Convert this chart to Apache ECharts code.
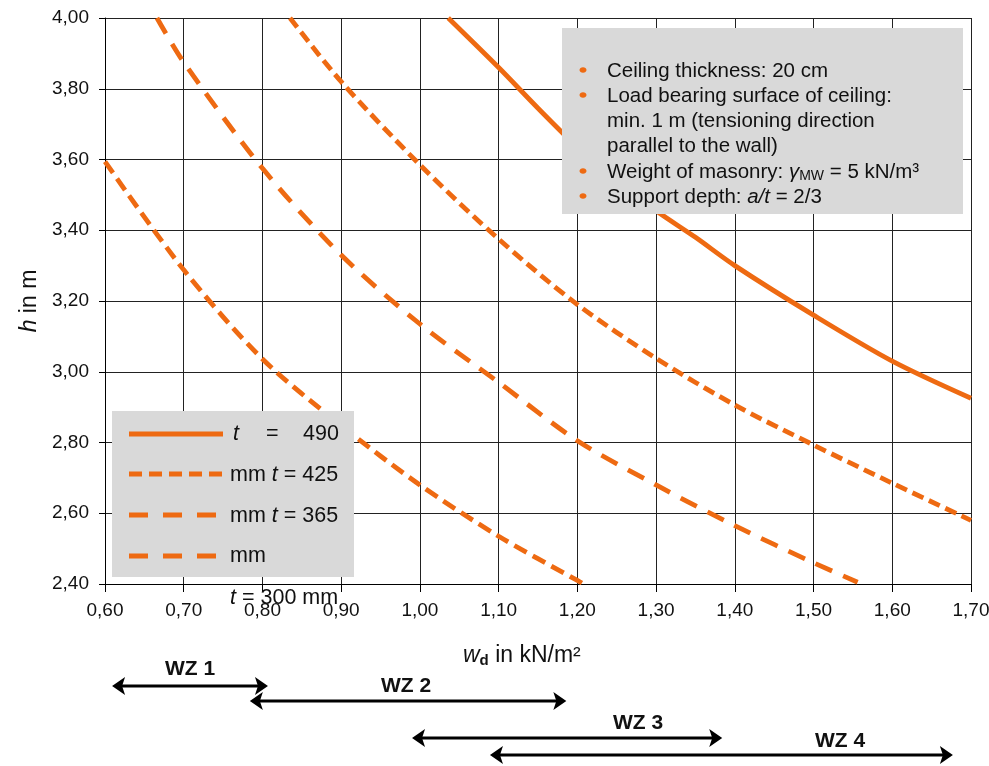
<!DOCTYPE html>
<html>
<head>
<meta charset="utf-8">
<script src="https://cdn.jsdelivr.net/npm/echarts@6/dist/echarts.min.js"></script>
<style>html,body{margin:0;padding:0;background:#fff;}#c{width:989px;height:766px;}</style>
</head>
<body>
<div id="c"></div>
<script>
// ---- data ----
const xTicks = { min: 0.6, max: 1.7, interval: 0.1 };
const yTicks = { min: 2.4, max: 4.0, interval: 0.2 };

const w490 = [1.036, 1.10, 1.15, 1.20, 1.25, 1.30, 1.35, 1.40, 1.50, 1.60, 1.70];
const h490 = [4.00, 3.86, 3.745, 3.635, 3.54, 3.455, 3.38, 3.30, 3.16, 3.03, 2.925];

const w425 = [0.835, 0.90, 1.00, 1.10, 1.20, 1.30, 1.40, 1.50, 1.60, 1.70];
const h425 = [4.00, 3.82, 3.585, 3.375, 3.19, 3.038, 2.906, 2.793, 2.685, 2.58];

const w365 = [0.666, 0.70, 0.80, 0.90, 1.00, 1.10, 1.20, 1.30, 1.40, 1.50, 1.556];
const h365 = [4.00, 3.875, 3.575, 3.33, 3.135, 2.97, 2.805, 2.68, 2.565, 2.46, 2.405];

const w300 = [0.60, 0.70, 0.80, 0.90, 1.00, 1.10, 1.20, 1.208];
const h300 = [3.594, 3.288, 3.036, 2.848, 2.68, 2.535, 2.41, 2.40];

const zoneNames = ['WZ 1', 'WZ 2', 'WZ 3', 'WZ 4'];
const zoneStart = [0.609, 0.784, 0.990, 1.089];
const zoneEnd   = [0.807, 1.186, 1.384, 1.677];

const infoLines = [
  'Ceiling thickness: 20 cm',
  'Load bearing surface of ceiling:',
  'min. 1 m (tensioning direction',
  'parallel to the wall)',
  'Weight of masonry: {i|γ}{s|MW} = 5 kN/m³',
  'Support depth: {i|a/t} = 2/3'
];
const infoBullets = [true, true, false, false, true, true];

// ---- style ----
const ORANGE = '#EE6A12';
const FONT = '"Liberation Sans", Arial, sans-serif';
const dash425 = [12, 6];
const dash365 = [18, 12];
const dash300 = [14, 7];

function pairs(xs, ys) { return xs.map((x, i) => [x, ys[i]]); }
function fmt(v) { return v.toFixed(2).replace('.', ','); }

const chart = echarts.init(document.getElementById('c'), null, { renderer: 'canvas' });

function lineSeries(name, xs, ys, type) {
  return {
    name: name, type: 'line', data: pairs(xs, ys), showSymbol: false, smooth: 0.3,
    clip: true,
    lineStyle: { color: ORANGE, width: 4.8, type: type, cap: 'butt' },
    z: 5
  };
}

const option = {
  animation: false,
  backgroundColor: '#fff',
  grid: { left: 105, top: 18, width: 866, height: 566, containLabel: false, outerBoundsMode: 'none' },
  xAxis: {
    type: 'value', min: xTicks.min, max: xTicks.max, interval: xTicks.interval,
    axisLine: { lineStyle: { color: '#000', width: 1 } },
    axisTick: { show: true, length: 8, lineStyle: { color: '#000' } },
    axisLabel: { formatter: fmt, color: '#111', fontFamily: FONT, fontSize: 19, margin: 17 },
    splitLine: { show: true, lineStyle: { color: '#222', width: 1 } }
  },
  yAxis: {
    type: 'value', min: yTicks.min, max: yTicks.max, interval: yTicks.interval,
    axisLine: { show: true, lineStyle: { color: '#000', width: 1 } },
    axisTick: { show: true, length: 6, lineStyle: { color: '#000' } },
    axisLabel: { formatter: fmt, color: '#111', fontFamily: FONT, fontSize: 19, margin: 16 },
    splitLine: { show: true, lineStyle: { color: '#222', width: 1 } },
    name: '{i|h} in m', nameLocation: 'middle', nameGap: 55, nameRotate: 90,
    nameTextStyle: { fontFamily: FONT, fontSize: 23, color: '#111',
      rich: { i: { fontStyle: 'italic', fontFamily: FONT, fontSize: 23, color: '#111' } } }
  },
  series: [
    lineSeries('t = 490 mm', w490, h490, 'solid'),
    lineSeries('t = 425 mm', w425, h425, dash425),
    lineSeries('t = 365 mm', w365, h365, dash365),
    lineSeries('t = 300 mm', w300, h300, dash300)
  ]
};
chart.setOption(option);

// ---- annotations ----
const g = [];
// info box
g.push({ type: 'rect', shape: { x: 562, y: 28, width: 401, height: 186 }, style: { fill: '#D9D9D9' }, z: 10 });
const infoY = [71, 96, 121, 146, 172, 197];
infoLines.forEach((t, i) => {
  if (infoBullets[i]) {
    g.push({ type: 'ellipse', shape: { cx: 583, cy: infoY[i] - 1, rx: 3.5, ry: 2.7 }, style: { fill: ORANGE }, z: 11 });
  }
  g.push({ type: 'text', x: 607, y: infoY[i], z: 11,
    style: { text: t, fill: '#111', font: '20.5px ' + FONT, verticalAlign: 'middle',
      rich: { i: { fontStyle: 'italic', fontSize: 20.5, fontFamily: FONT, fill: '#111' },
              s: { fontSize: 14, fontFamily: FONT, fill: '#111', padding: [9, 0, 0, 0] } } } });
});

// legend box
g.push({ type: 'rect', shape: { x: 112, y: 411, width: 242, height: 166 }, style: { fill: '#D9D9D9' }, z: 10 });
const legY = [434, 474, 515, 556];
const legDash = ['solid', [13, 7], [19, 15], [19, 15]];
legY.forEach((y, i) => {
  g.push({ type: 'line', shape: { x1: 129, y1: y, x2: 223, y2: y }, z: 11,
    style: { stroke: ORANGE, lineWidth: 4.8, lineDash: legDash[i] === 'solid' ? null : legDash[i] } });
});
const legFont = '21.5px ' + FONT;
const legItal = { fontStyle: 'italic', fontSize: 21.5, fontFamily: FONT, fill: '#111' };
g.push({ type: 'text', x: 233, y: 434, z: 11, style: { text: '{i|t}', fill: '#111', font: legFont, verticalAlign: 'middle', rich: { i: legItal } } });
g.push({ type: 'text', x: 266, y: 434, z: 11, style: { text: '=', fill: '#111', font: legFont, verticalAlign: 'middle' } });
g.push({ type: 'text', x: 303, y: 434, z: 11, style: { text: '490', fill: '#111', font: legFont, verticalAlign: 'middle' } });
g.push({ type: 'text', x: 230, y: 475, z: 11, style: { text: 'mm {i|t} = 425', fill: '#111', font: legFont, verticalAlign: 'middle', rich: { i: legItal } } });
g.push({ type: 'text', x: 230, y: 516, z: 11, style: { text: 'mm {i|t} = 365', fill: '#111', font: legFont, verticalAlign: 'middle', rich: { i: legItal } } });
g.push({ type: 'text', x: 230, y: 556, z: 11, style: { text: 'mm', fill: '#111', font: legFont, verticalAlign: 'middle' } });
g.push({ type: 'text', x: 230, y: 598, z: 11, style: { text: '{i|t} = 300 mm', fill: '#111', font: legFont, verticalAlign: 'middle', rich: { i: legItal } } });

// x axis name
g.push({ type: 'text', x: 463, y: 656, z: 11,
  style: { text: '{i|w}{d|d} in kN/m²', fill: '#111', font: '23px ' + FONT, verticalAlign: 'middle',
    rich: { i: { fontStyle: 'italic', fontSize: 23, fontFamily: FONT, fill: '#111' },
            d: { fontWeight: 'bold', fontSize: 15, fontFamily: FONT, fill: '#111', padding: [10, 0, 0, 0] } } } });

// zone arrows
const zoneY = [686, 701, 738, 755];
const zoneLabelY = [669, 686, 723, 741];
zoneNames.forEach((n, i) => {
  const x1 = chart.convertToPixel({ xAxisIndex: 0 }, zoneStart[i]);
  const x2 = chart.convertToPixel({ xAxisIndex: 0 }, zoneEnd[i]);
  const y = zoneY[i];
  const ah = 13, aw = 9;
  g.push({ type: 'line', shape: { x1: x1 + 5, y1: y, x2: x2 - 5, y2: y }, style: { stroke: '#000', lineWidth: 3 }, z: 11 });
  g.push({ type: 'polygon', shape: { points: [[x1, y], [x1 + ah, y - aw], [x1 + ah - 3, y], [x1 + ah, y + aw]] }, style: { fill: '#000' }, z: 11 });
  g.push({ type: 'polygon', shape: { points: [[x2, y], [x2 - ah, y - aw], [x2 - ah + 3, y], [x2 - ah, y + aw]] }, style: { fill: '#000' }, z: 11 });
});
const zoneLabelX = [190, 406, 638, 840];
zoneNames.forEach((n, i) => {
  g.push({ type: 'text', x: zoneLabelX[i], y: zoneLabelY[i], z: 11,
    style: { text: n, fill: '#111', font: 'bold 21px ' + FONT, align: 'center', verticalAlign: 'middle' } });
});

chart.setOption({ graphic: g });
</script>
</body>
</html>
